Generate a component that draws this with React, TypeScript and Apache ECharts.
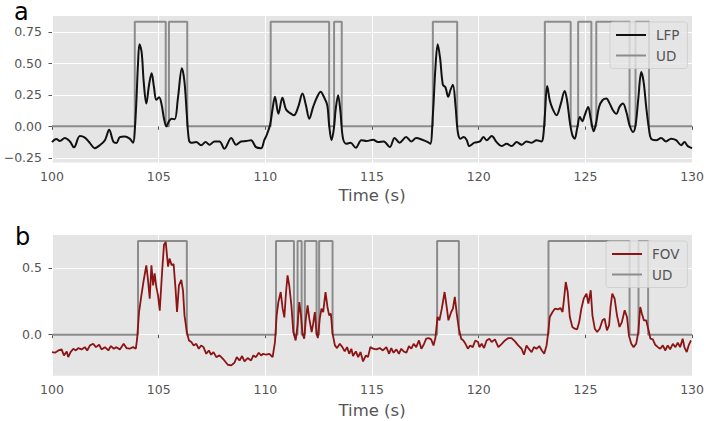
import React, { useEffect, useRef } from "react";
import * as echarts from "echarts";

// ---------- data ----------
const lfpTime = [
  100.0, 100.2, 100.37, 100.6, 100.84, 101.03, 101.31, 101.54, 101.78, 102.0,
  102.24, 102.48, 102.68, 102.87, 103.02, 103.18, 103.41, 103.64, 103.8, 103.88,
  103.96, 104.03, 104.1, 104.2, 104.3, 104.42, 104.55, 104.67, 104.78, 104.89,
  105.02, 105.14, 105.25, 105.36, 105.48, 105.6, 105.75, 105.9, 106.09, 106.21,
  106.32, 106.42, 106.53, 106.76, 106.99, 107.2, 107.38, 107.62, 107.85, 108.08,
  108.4, 108.63, 108.86, 109.1, 109.33, 109.56, 109.8, 109.95, 110.06, 110.22,
  110.34, 110.45, 110.61, 110.8, 110.97, 111.15, 111.34, 111.54, 111.74, 111.9,
  112.06, 112.24, 112.43, 112.59, 112.74, 112.9, 112.99, 113.1, 113.21, 113.3,
  113.41, 113.52, 113.64, 113.8, 113.99, 114.24, 114.5, 114.74, 115.05, 115.28,
  115.55, 115.83, 116.06, 116.29, 116.6, 116.84, 117.07, 117.35, 117.62, 117.73,
  117.85, 117.97, 118.08, 118.19, 118.32, 118.44, 118.57, 118.68, 118.79, 118.91,
  119.02, 119.14, 119.3, 119.44, 119.56, 119.8, 120.06, 120.22, 120.37, 120.61,
  120.84, 121.07, 121.31, 121.54, 121.78, 122.01, 122.24, 122.48, 122.71, 122.94,
  123.02, 123.1, 123.21, 123.33, 123.46, 123.65, 123.83, 124.03, 124.14, 124.27,
  124.39, 124.5, 124.61, 124.74, 124.86, 124.97, 125.13, 125.25, 125.39, 125.51,
  125.64, 125.8, 125.98, 126.14, 126.29, 126.45, 126.6, 126.76, 126.92, 127.07,
  127.23, 127.35, 127.48, 127.62, 127.73, 127.85, 127.98, 128.08, 128.32, 128.55,
  128.78, 129.02, 129.25, 129.49, 129.64, 129.8, 130.0,
];
const lfpValue = [
  -0.125, -0.1, -0.117, -0.093, -0.12, -0.167, -0.077, -0.09, -0.133, -0.173,
  -0.15, -0.11, -0.027, -0.12, -0.133, -0.085, -0.08, -0.098, -0.13, -0.03,
  0.22, 0.49, 0.65, 0.59, 0.35, 0.18, 0.33, 0.42, 0.31, 0.21,
  0.23, 0.17, 0.06, 0.0, 0.04, 0.06, 0.056, 0.22, 0.46, 0.35,
  0.09, -0.11, -0.13, -0.125, -0.15, -0.125, -0.146, -0.12, -0.12, -0.178,
  -0.093, -0.146, -0.12, -0.117, -0.11, -0.165, -0.173, -0.11, -0.07, 0.01,
  0.14, 0.234, 0.1, 0.226, 0.133, 0.106, 0.088, 0.154, 0.26, 0.168,
  0.061, 0.154, 0.234, 0.274, 0.234, 0.168, 0.008, -0.11, -0.02, 0.14,
  0.247, 0.114, -0.098, -0.138, -0.13, -0.17, -0.11, -0.117, -0.106, -0.125,
  -0.12, -0.165, -0.093, -0.13, -0.085, -0.12, -0.093, -0.106, -0.125, -0.138,
  0.088, 0.46, 0.65, 0.54, 0.33, 0.31, 0.234, 0.29, 0.33, 0.168,
  -0.045, -0.098, -0.085, -0.11, -0.157, -0.13, -0.12, -0.085, -0.11, -0.077,
  -0.125, -0.157, -0.138, -0.157, -0.125, -0.146, -0.12, -0.13, -0.11, -0.12,
  -0.085, 0.088, 0.32, 0.207, 0.14, 0.088, 0.168, 0.28, 0.207, 0.035,
  -0.07, -0.098, -0.02, 0.074, 0.04, 0.088, 0.154, 0.061, -0.04, 0.035,
  0.154, 0.207, 0.22, 0.18, 0.128, 0.1, 0.154, 0.18, 0.114, 0.008,
  -0.045, 0.008, 0.22, 0.43, 0.35, 0.154, -0.02, -0.098, -0.11, -0.093,
  -0.12, -0.098, -0.11, -0.15, -0.125, -0.157, -0.173,
];

const fovTime = [
  100.0, 100.14, 100.3, 100.45, 100.56, 100.69, 100.76, 100.87, 101.0, 101.12,
  101.23, 101.39, 101.54, 101.65, 101.78, 101.93, 102.06, 102.21, 102.32, 102.48,
  102.64, 102.76, 102.9, 103.02, 103.18, 103.36, 103.49, 103.64, 103.8, 103.93,
  103.99, 104.08, 104.19, 104.3, 104.42, 104.5, 104.58, 104.66, 104.74, 104.81,
  104.89, 104.97, 105.05, 105.16, 105.25, 105.33, 105.44, 105.51, 105.61, 105.7,
  105.79, 105.86, 105.95, 106.06, 106.14, 106.21, 106.32, 106.42, 106.53, 106.64,
  106.76, 106.88, 106.99, 107.1, 107.23, 107.35, 107.46, 107.57, 107.7, 107.85,
  107.98, 108.08, 108.24, 108.4, 108.55, 108.66, 108.79, 108.91, 109.02, 109.17,
  109.33, 109.44, 109.56, 109.69, 109.8,
  109.9, 110.03, 110.19, 110.34, 110.45, 110.53, 110.61, 110.72, 110.81, 110.89,
  110.97, 111.04, 111.12, 111.22, 111.31, 111.42, 111.51, 111.59, 111.67, 111.74,
  111.82, 111.9, 111.98, 112.06, 112.17, 112.24, 112.32, 112.4, 112.46, 112.55,
  112.63, 112.71, 112.82, 112.91, 112.99, 113.07, 113.15, 113.26, 113.36, 113.49,
  113.61, 113.72, 113.83, 113.93, 114.03, 114.11, 114.24, 114.35, 114.46, 114.58,
  114.71, 114.81, 114.92, 115.05, 115.2, 115.36, 115.51, 115.67, 115.8, 115.9,
  116.01, 116.14, 116.26, 116.37, 116.48, 116.61, 116.73, 116.84, 116.95, 117.07,
  117.2, 117.31, 117.42, 117.54, 117.65, 117.77, 117.88, 117.97, 118.07, 118.16,
  118.27, 118.4, 118.51, 118.58, 118.71, 118.79, 118.88, 118.97, 119.07, 119.18,
  119.28, 119.38, 119.49, 119.6, 119.72, 119.84, 119.97,
  120.03, 120.14, 120.25, 120.37, 120.5, 120.61, 120.76, 120.92, 121.08, 121.23,
  121.39, 121.54, 121.7, 121.85, 122.01, 122.12, 122.24, 122.37, 122.48, 122.59,
  122.71, 122.84, 122.96, 123.07, 123.18, 123.26, 123.33, 123.46, 123.57, 123.72,
  123.83, 123.93, 124.0, 124.08, 124.17, 124.27, 124.39, 124.5, 124.61, 124.71,
  124.81, 124.92, 125.05, 125.14, 125.25, 125.33, 125.44, 125.55, 125.67, 125.8,
  125.9, 126.01, 126.11, 126.18, 126.26, 126.37, 126.48, 126.6, 126.71, 126.84,
  126.95, 127.04, 127.15, 127.26, 127.38, 127.48, 127.57, 127.65, 127.74, 127.85,
  127.96, 128.05, 128.16, 128.27, 128.4, 128.51, 128.63, 128.74, 128.86, 128.97,
  129.1, 129.22, 129.33, 129.44, 129.56, 129.64, 129.75, 129.84, 129.95,
];
const fovValue = [
  -0.13, -0.135, -0.118, -0.11, -0.155, -0.125, -0.168, -0.13, -0.105, -0.118,
  -0.1, -0.11, -0.093, -0.118, -0.08, -0.068, -0.093, -0.075, -0.11, -0.093,
  -0.118, -0.085, -0.105, -0.093, -0.11, -0.068, -0.1, -0.105, -0.093, -0.105,
  -0.03, 0.17, 0.295, 0.41, 0.52, 0.41, 0.27, 0.52, 0.37, 0.46,
  0.357, 0.295, 0.18, 0.47, 0.675, 0.695, 0.51, 0.57, 0.52, 0.53,
  0.345, 0.17, 0.37, 0.41, 0.33, 0.145, 0.02, -0.043, -0.055, -0.08,
  -0.068, -0.105, -0.08, -0.093, -0.143, -0.118, -0.15, -0.13, -0.168, -0.155,
  -0.175, -0.193, -0.225, -0.23, -0.21, -0.168, -0.193, -0.16, -0.2, -0.175,
  -0.193, -0.155, -0.168, -0.135, -0.155,
  -0.143, -0.15, -0.143, -0.168, -0.055, 0.145, 0.245, 0.32, 0.195, 0.13,
  0.32, 0.445, 0.37, 0.22, 0.02, -0.043, 0.07, 0.245, 0.145, 0.008,
  -0.03, 0.12, 0.22, 0.12, 0.02, 0.083, 0.17, 0.008, -0.025, 0.12,
  0.195, 0.17, 0.32, 0.208, 0.145, 0.158, 0.008, -0.08, -0.1, -0.068,
  -0.093, -0.125, -0.093, -0.143, -0.105, -0.16, -0.125, -0.168, -0.13, -0.2,
  -0.155, -0.168, -0.093, -0.105, -0.11, -0.1, -0.118, -0.093, -0.143, -0.1,
  -0.135, -0.11, -0.143, -0.105, -0.125, -0.135, -0.085, -0.105, -0.068, -0.093,
  -0.043, -0.105, -0.075, -0.03, -0.025, -0.035, -0.08, -0.025, 0.133, 0.108,
  0.195, 0.32, 0.195, 0.108, 0.17, 0.195, 0.283, 0.158, 0.045, -0.03,
  -0.043, -0.068, -0.105, -0.08, -0.093, -0.043, -0.055,
  -0.093, -0.068, -0.1, -0.043, -0.03, -0.055, -0.035, -0.093, -0.068, -0.043,
  -0.025, -0.025, -0.05, -0.08, -0.105, -0.15, -0.08, -0.11, -0.13, -0.093,
  -0.105, -0.085, -0.118, -0.143, -0.08, 0.02, 0.133, 0.17, 0.195, 0.19,
  0.2, 0.17, 0.27, 0.395, 0.32, 0.133, 0.058, 0.045, 0.04, 0.095,
  0.195, 0.27, 0.308, 0.233, 0.333, 0.145, 0.045, 0.02, 0.045, 0.108,
  0.12, 0.033, 0.07, 0.208, 0.308, 0.27, 0.145, 0.058, 0.095, 0.183,
  0.133, -0.005, -0.068, -0.093, -0.068, 0.02, 0.208, 0.158, 0.108, 0.108,
  0.033, -0.03, -0.035, -0.075, -0.093, -0.105, -0.08, -0.118, -0.08, -0.11,
  -0.068, -0.093, -0.06, -0.093, -0.03, -0.093, -0.13, -0.08, -0.043,
];

// UD state transitions (alternating up / down), seconds
const udTopEdges = [
  103.88, 105.33, 105.48, 106.34, 110.25, 112.99, 113.22, 113.58, 117.85, 118.99,
  123.1, 124.31, 124.66, 125.28, 125.51, 127.07, 127.35, 127.98,
];
const udTopHigh = 0.83;
const udBottomEdges = [
  104.03, 106.32, 110.5, 111.34, 111.51, 111.7, 111.85, 112.4, 112.52, 113.15,
  118.05, 119.07, 123.27, 127.07, 127.49, 127.94,
];
const udBottomHigh = 0.702;

const xTicks = [100, 105, 110, 115, 120, 125, 130];
const topYTicks = [-0.25, 0, 0.25, 0.5, 0.75];
const bottomYTicks = [0, 0.5];
const panelLetters = ["a", "b"];
const xAxisName = "Time (s)";

// ---------- helpers ----------
function pairs(t: number[], v: number[]) {
  return t.map((x, i) => [x, v[i]]);
}
function stepData(edges: number[], high: number, start: number, end: number) {
  const pts: number[][] = [[start, 0]];
  edges.forEach((t, i) => {
    const before = i % 2 === 0 ? 0 : high;
    const after = i % 2 === 0 ? high : 0;
    pts.push([t, before], [t, after]);
  });
  pts.push([end, 0]);
  return pts;
}
const fmtMinus = (s: string) => s.replace("-", "\u2212");

const FONT = "DejaVu Sans";
const GRAY = "#555555";
const UD_COLOR = "#8c8c8c";

export default function App() {
  const ref = useRef<HTMLDivElement>(null);
  useEffect(() => {
    if (!ref.current) return;
    const chart = echarts.init(ref.current, null, { renderer: "svg" });

    const xAxisBase = (gridIndex: number, nameGap: number) => ({
      type: "value",
      gridIndex,
      min: xTicks[0],
      max: xTicks[xTicks.length - 1],
      interval: 5,
      axisLine: { show: false },
      axisTick: { show: true, length: 3.5, lineStyle: { color: GRAY, width: 1 } },
      axisLabel: { color: GRAY, fontSize: 12.5, fontFamily: FONT, margin: 7 },
      splitLine: { show: true, lineStyle: { color: "#ffffff", width: 1 } },
      name: xAxisName,
      nameLocation: "middle",
      nameGap,
      nameTextStyle: { color: GRAY, fontSize: 16.5, fontFamily: FONT, verticalAlign: "top" },
    });

    const yAxisBase = (
      gridIndex: number,
      min: number,
      max: number,
      ticks: number[],
      step: number,
      digits: number
    ) => ({
      type: "value",
      gridIndex,
      min,
      max,
      minInterval: step,
      maxInterval: step,
      axisLine: { show: false },
      axisTick: { show: true, length: 3.5, customValues: ticks, lineStyle: { color: GRAY, width: 1 } },
      axisLabel: {
        color: GRAY,
        fontSize: 12.5,
        fontFamily: FONT,
        margin: 10,
        customValues: ticks,
        formatter: (v: number) => fmtMinus(v.toFixed(digits)),
      },
      splitLine: { show: true, lineStyle: { color: "#ffffff", width: 1 } },
    });

    const legendBase = {
      orient: "vertical",
      itemWidth: 30,
      itemHeight: 15,
      itemGap: 6.5,
      padding: [6, 8, 6, 5],
      backgroundColor: "rgba(229,229,229,0.8)",
      borderColor: "rgba(204,204,204,0.8)",
      borderWidth: 1,
      borderRadius: 3,
      selectedMode: false,
      itemStyle: { opacity: 0, color: "rgba(0,0,0,0)", borderWidth: 0 },
      textStyle: { color: GRAY, fontSize: 13.5, fontFamily: FONT, padding: [0, 0, 0, 5] },
    };

    chart.setOption({
      animation: false,
      grid: [
        { left: 52, top: 16, width: 641.5, height: 146.5, show: true, backgroundColor: "#E5E5E5", borderWidth: 0 },
        { left: 52, top: 235, width: 641.5, height: 140.7, show: true, backgroundColor: "#E5E5E5", borderWidth: 0 },
      ],
      xAxis: [xAxisBase(0, 24), xAxisBase(1, 26)],
      yAxis: [
        yAxisBase(0, -0.287, 0.875, topYTicks, 0.25, 2),
        yAxisBase(1, -0.307, 0.747, bottomYTicks, 0.5, 1),
      ],
      legend: [
        { ...legendBase, left: 610, top: 22, data: ["LFP", "UD"] },
        { ...legendBase, left: 606, top: 241, data: ["FOV", "UD"] },
      ],
      graphic: [
        {
          type: "text",
          left: 14,
          top: 0,
          style: { text: panelLetters[0], font: `24px '${FONT}'`, lineHeight: 16, fill: "#000" },
        },
        {
          type: "text",
          left: 15,
          top: 225,
          style: { text: panelLetters[1], font: `24px '${FONT}'`, fill: "#000" },
        },
      ],
      series: [
        {
          name: "UD",
          type: "line",
          xAxisIndex: 0,
          yAxisIndex: 0,
          data: stepData(udTopEdges, udTopHigh, xTicks[0], xTicks[xTicks.length - 1]),
          symbol: "none",
          lineStyle: { color: UD_COLOR, width: 2 },
          itemStyle: { color: UD_COLOR },
          z: 2,
        },
        {
          name: "LFP",
          type: "line",
          xAxisIndex: 0,
          yAxisIndex: 0,
          data: pairs(lfpTime, lfpValue),
          symbol: "none",
          smooth: 0.35,
          lineStyle: { color: "#111111", width: 2 },
          itemStyle: { color: "#111111" },
          z: 3,
        },
        {
          name: "UD",
          type: "line",
          xAxisIndex: 1,
          yAxisIndex: 1,
          data: stepData(udBottomEdges, udBottomHigh, xTicks[0], xTicks[xTicks.length - 1]),
          symbol: "none",
          lineStyle: { color: UD_COLOR, width: 2 },
          itemStyle: { color: UD_COLOR },
          z: 2,
        },
        {
          name: "FOV",
          type: "line",
          xAxisIndex: 1,
          yAxisIndex: 1,
          data: pairs(fovTime, fovValue),
          symbol: "none",
          lineStyle: { color: "#8c1414", width: 1.8 },
          itemStyle: { color: "#8c1414" },
          z: 3,
        },
      ],
    });
    return () => chart.dispose();
  }, []);
  return (
    <div
      ref={ref}
      style={{ position: "absolute", left: 0, top: 0, width: 707, height: 421, background: "#fff" }}
    />
  );
}
